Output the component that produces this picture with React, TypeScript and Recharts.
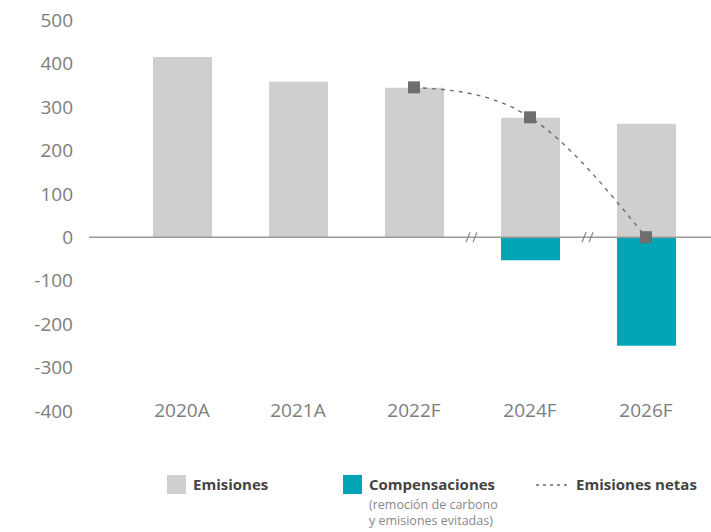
import React from "react";
import {
  ComposedChart,
  Bar,
  Line,
  XAxis,
  YAxis,
  ReferenceLine,
  ReferenceDot,
} from "recharts";

const categories = ["2020A", "2021A", "2022F", "2024F", "2026F"];
const emisiones = [415, 358, 344, 275, 261];
const compensaciones = [0, 0, 0, -53, -250];
const netas = [null, null, 345, 276, 0];
const yTicks = [-400, -300, -200, -100, 0, 100, 200, 300, 400, 500];
const breakAt = ["2024F", "2026F"];

const data = categories.map((c, i) => ({
  name: c,
  emisiones: emisiones[i],
  compensaciones: compensaciones[i],
  netas: netas[i],
}));

const FONT = "'Open Sans', 'DejaVu Sans', sans-serif";
const GRAY = "#d0cfcd";
const TEAL = "#00a6b6";
const DARK = "#6e6e6e";

function SquareDot(props: any) {
  const { cx, cy } = props;
  if (cx == null || cy == null) return null;
  return <rect x={cx - 6} y={cy - 6} width={12} height={12} fill={DARK} />;
}

function BreakMark(props: any) {
  const { cx, cy } = props;
  const x = cx - 58;
  return (
    <g stroke="#888" strokeWidth={1.2}>
      <line x1={x - 6} y1={cy + 5} x2={x - 2} y2={cy - 5} />
      <line x1={x + 1} y1={cy + 5} x2={x + 5} y2={cy - 5} />
    </g>
  );
}

function XTick(props: any) {
  const { x, y, payload } = props;
  return (
    <text x={x} y={y} dy={-2} textAnchor="middle" fill="#7d7d7d" fontSize={19} fontFamily={FONT}>
      {payload.value}
    </text>
  );
}

function ChartLegend() {
  const bold = { fontWeight: 700, fontSize: 15, color: "#444", fontFamily: FONT, whiteSpace: "nowrap" as const };
  const sub = {
    position: "absolute" as const,
    left: 369,
    fontSize: 12.5,
    lineHeight: "14px",
    color: "#888",
    fontFamily: FONT,
    whiteSpace: "nowrap" as const,
  };
  return (
    <div style={{ position: "absolute", left: 0, top: 470, width: 711, height: 62 }}>
      <div style={{ position: "absolute", left: 167, top: 5, width: 19, height: 19, background: GRAY }} />
      <div style={{ position: "absolute", left: 193, top: 4, ...bold }}>Emisiones</div>
      <div style={{ position: "absolute", left: 343, top: 5, width: 19, height: 19, background: TEAL }} />
      <div style={{ position: "absolute", left: 369, top: 4, ...bold }}>Compensaciones</div>
      <div style={{ ...sub, top: 28 }}>(remoción de carbono</div>
      <div style={{ ...sub, top: 44 }}>y emisiones evitadas)</div>
      <svg style={{ position: "absolute", left: 536, top: 11 }} width={32} height={8}>
        <line x1={0} y1={4} x2={32} y2={4} stroke={DARK} strokeWidth={1.3} strokeDasharray="3 4" />
      </svg>
      <div style={{ position: "absolute", left: 576, top: 4, ...bold }}>Emisiones netas</div>
    </div>
  );
}

export default function App() {
  return (
    <div style={{ position: "absolute", left: 0, top: 0, width: 711, height: 532, background: "#fff" }}>
      <ComposedChart
        width={711}
        height={532}
        data={data}
        stackOffset="sign"
        margin={{ top: 20, right: 0, bottom: 120, left: 0 }}
      >
        <XAxis
          dataKey="name"
          axisLine={false}
          tickLine={false}
          tick={<XTick />}
          padding={{ left: 35, right: 7 }}
          height={1}
        />
        <YAxis
          domain={[-400, 500]}
          ticks={yTicks}
          interval={0}
          axisLine={false}
          tickLine={false}
          width={89}
          tickMargin={10}
          tick={{ fill: "#7d7d7d", fontSize: 19, fontFamily: FONT }}
        />
        <Bar dataKey="emisiones" stackId="a" fill={GRAY} barSize={59} isAnimationActive={false} />
        <Bar dataKey="compensaciones" stackId="a" fill={TEAL} barSize={59} isAnimationActive={false} />
        <ReferenceLine y={0} stroke="#999" strokeWidth={1.5} />
        {breakAt.map((c) => (
          <ReferenceDot key={c} x={c} y={0} shape={<BreakMark />} />
        ))}
        <Line
          dataKey="netas"
          type="natural"
          stroke={DARK}
          strokeWidth={1.4}
          strokeDasharray="4 5"
          dot={<SquareDot />}
          activeDot={false}
          connectNulls
          isAnimationActive={false}
        />
      </ComposedChart>
      <ChartLegend />
    </div>
  );
}
